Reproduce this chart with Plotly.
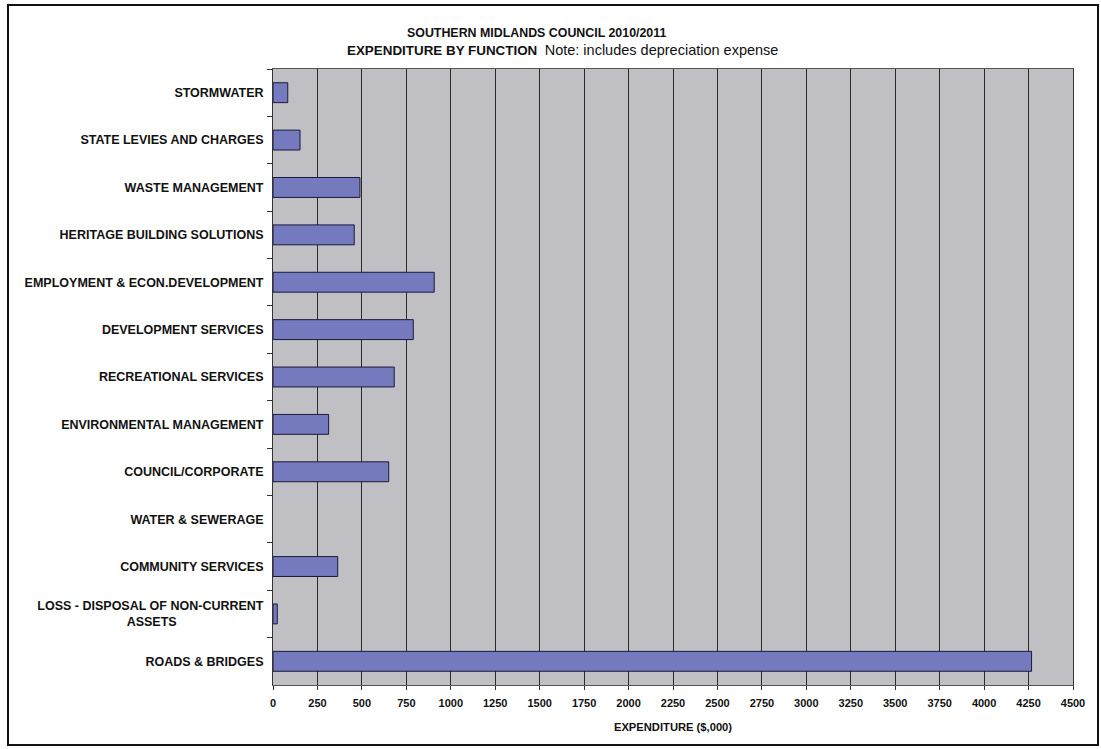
import plotly.graph_objects as go

categories = [
    "STORMWATER",
    "STATE LEVIES AND CHARGES",
    "WASTE MANAGEMENT",
    "HERITAGE BUILDING SOLUTIONS",
    "EMPLOYMENT & ECON.DEVELOPMENT",
    "DEVELOPMENT SERVICES",
    "RECREATIONAL SERVICES",
    "ENVIRONMENTAL MANAGEMENT",
    "COUNCIL/CORPORATE",
    "WATER & SEWERAGE",
    "COMMUNITY SERVICES",
    "LOSS - DISPOSAL OF NON-CURRENT<br>ASSETS" + "\u00a0" * 25,
    "ROADS & BRIDGES",
]
values = [83, 152, 489, 457, 907, 789, 682, 313, 651, 0, 364, 24, 4267]

x_ticks = list(range(0, 4501, 250))

FONT = "Liberation Sans, Arial, sans-serif"

fig = go.Figure(
    go.Bar(
        y=categories,
        x=values,
        orientation="h",
        marker=dict(
            color="#7579BD",
            line=dict(color="#1a1a3a", width=[1 if v > 0 else 0 for v in values]),
        ),
        hoverinfo="x+y",
    )
)

# plot area geometry (pixels) for paper-coordinate conversion
L, R, T, B = 273, 1073, 69, 685
W, H = R - L, B - T


def px(x):
    return (x - L) / W


def py(y):
    return (B - y) / H


fig.update_layout(
    width=1101,
    height=749,
    margin=dict(l=L, r=1101 - R, t=T, b=749 - B),
    paper_bgcolor="white",
    plot_bgcolor="#C0C0C4",
    bargap=0.58,
    showlegend=False,
    font=dict(family=FONT, color="#111111"),
    xaxis=dict(
        range=[0, 4500],
        tickvals=x_ticks,
        ticktext=[str(v) for v in x_ticks],
        showgrid=True,
        gridcolor="#2a2a2a",
        gridwidth=1,
        zeroline=False,
        showline=True,
        linecolor="#555555",
        linewidth=1,
        ticks="outside",
        ticklen=4,
        tickcolor="#333333",
        ticklabelstandoff=4,
        tickfont=dict(size=11, family=FONT, weight="bold"),
        title=dict(
            text="EXPENDITURE ($,000)",
            font=dict(size=11.2, family=FONT, weight="bold"),
            standoff=14,
        ),
        mirror=True,
    ),
    yaxis=dict(
        autorange="reversed",
        showgrid=False,
        showline=True,
        linecolor="#333333",
        linewidth=1,
        ticks="outside",
        tickson="boundaries",
        ticklen=5,
        tickcolor="#333333",
        tickfont=dict(size=12.5, family=FONT, weight="bold"),
        ticklabelstandoff=6,
        mirror=True,
    ),
    annotations=[
        dict(
            text="<b>SOUTHERN MIDLANDS COUNCIL 2010/2011</b>",
            xref="paper", yref="paper",
            x=px(536), y=py(33),
            xanchor="center", yanchor="middle",
            showarrow=False,
            font=dict(size=12.4, family=FONT, color="#111111"),
        ),
        dict(
            text="<b><span style='font-size:13.4px'>EXPENDITURE BY FUNCTION</span></b>"
                 "\u00a0\u00a0<span style='font-size:14.5px'>Note: includes depreciation expense</span>",
            xref="paper", yref="paper",
            x=px(562), y=py(50),
            xanchor="center", yanchor="middle",
            showarrow=False,
            font=dict(size=13.4, family=FONT, color="#111111"),
        ),
    ],
    shapes=[
        dict(
            type="rect",
            xref="paper", yref="paper",
            x0=px(8), x1=px(1098), y0=py(745), y1=py(5),
            line=dict(color="#111111", width=2),
            fillcolor="rgba(0,0,0,0)",
            layer="below",
        )
    ],
)

fig.write_html("out.html")
